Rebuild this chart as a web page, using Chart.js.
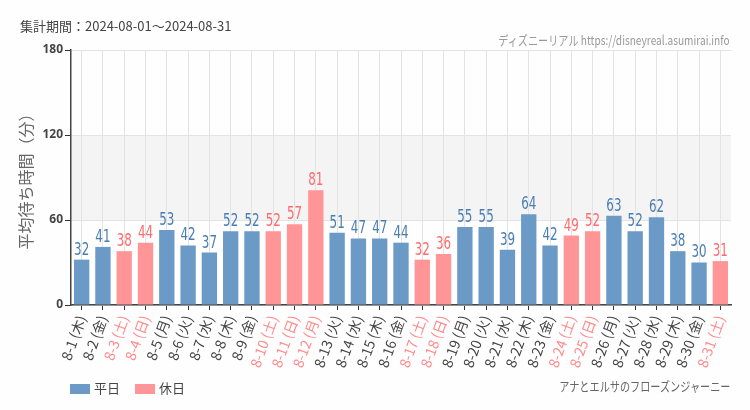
<!DOCTYPE html>
<html>
<head>
<meta charset="utf-8">
<script src="https://cdn.jsdelivr.net/npm/chart.js@4"></script>
<style>
  html, body { margin: 0; padding: 0; background: #fdfefd; }
  #wrap { position: relative; width: 750px; height: 410px; font-family: "Noto Sans CJK JP", "DejaVu Sans", sans-serif; }
  #period { position: absolute; left: 20px; top: 16px; font-size: 13px; color: #444; }
  .narrow { position: absolute; white-space: nowrap; transform: scaleX(0.78); transform-origin: right top; }
  #site { right: 20px; top: 30px; font-size: 13px; color: #999; }
  #legend { position: absolute; left: 70px; top: 378px; font-size: 13px; color: #444; }
  #legend span.box { display: inline-block; width: 20px; height: 10px; vertical-align: -1px; margin-right: 4px; }
  #legend span.item { margin-right: 12px; }
  #attr { right: 20px; top: 376px; font-size: 13px; color: #666; }
  canvas { position: absolute; left: 0; top: 0; }
</style>
</head>
<body>
<div id="wrap">
  <canvas id="chart" width="750" height="410"></canvas>
  <div id="period">集計期間：2024-08-01～2024-08-31</div>
  <div id="site" class="narrow">ディズニーリアル https://disneyreal.asumirai.info</div>
  <div id="legend">
    <span class="item"><span class="box" style="background:#6b9ac7"></span>平日</span>
    <span class="item"><span class="box" style="background:#ff9597"></span>休日</span>
  </div>
  <div id="attr" class="narrow">アナとエルサのフローズンジャーニー</div>
</div>
<script>
// ---- data ----
const days = ['8-1','8-2','8-3','8-4','8-5','8-6','8-7','8-8','8-9','8-10','8-11','8-12','8-13','8-14','8-15','8-16',
  '8-17','8-18','8-19','8-20','8-21','8-22','8-23','8-24','8-25','8-26','8-27','8-28','8-29','8-30','8-31'];
const weekdays = ['木','金','土','日','月','火','水','木','金','土','日','月','火','水','木','金',
  '土','日','月','火','水','木','金','土','日','月','火','水','木','金','土'];
const waitTimes = [32,41,38,44,53,42,37,52,52,52,57,81,51,47,47,44,32,36,55,55,39,64,42,49,52,63,52,62,38,30,31];
const holidays = ['8-3','8-4','8-10','8-11','8-12','8-17','8-18','8-24','8-25','8-31'];
const yTicks = [0, 60, 120, 180];

const BLUE = '#6b9ac7', PINK = '#ff9597';
const BLUE_TXT = '#4a7db3', PINK_TXT = '#ff6b6e';

const labels = days.map((d, i) => d + '\u2009(' + weekdays[i] + ')');
const isHoliday = days.map(d => holidays.includes(d));
const weekdayData = waitTimes.map((v, i) => isHoliday[i] ? null : v);
const holidayData = waitTimes.map((v, i) => isHoliday[i] ? v : null);

// band between 60 and 120
const bandPlugin = {
  id: 'band',
  beforeDraw(chart) {
    const { ctx, chartArea, scales } = chart;
    const y1 = scales.y.getPixelForValue(120), y2 = scales.y.getPixelForValue(60);
    ctx.save();
    ctx.fillStyle = '#f3f4f3';
    ctx.fillRect(chartArea.left, y1, chartArea.right - chartArea.left, y2 - y1);
    ctx.restore();
  }
};

// value labels above bars (squeezed to look condensed)
const valuePlugin = {
  id: 'values',
  afterDatasetsDraw(chart) {
    const { ctx } = chart;
    ctx.save();
    ctx.font = '17px "DejaVu Sans", sans-serif';
    ctx.textAlign = 'center';
    ctx.textBaseline = 'bottom';
    chart.data.datasets.forEach((ds, di) => {
      const meta = chart.getDatasetMeta(di);
      meta.data.forEach((bar, i) => {
        if (ds.data[i] == null) return;
        ctx.save();
        ctx.translate(bar.x, bar.y - 1);
        ctx.scale(0.7, 1);
        ctx.fillStyle = di === 0 ? BLUE_TXT : PINK_TXT;
        ctx.fillText(ds.data[i], 0, 0);
        ctx.restore();
      });
    });
    ctx.restore();
  }
};

new Chart(document.getElementById('chart'), {
  type: 'bar',
  data: {
    labels,
    datasets: [
      { label: '平日', data: weekdayData, backgroundColor: BLUE, grouped: false, barPercentage: 0.72, categoryPercentage: 1 },
      { label: '休日', data: holidayData, backgroundColor: PINK, grouped: false, barPercentage: 0.72, categoryPercentage: 1 }
    ]
  },
  options: {
    responsive: false,
    animation: false,
    layout: { padding: { top: 50, right: 19, left: 0, bottom: 0 } },
    plugins: { legend: { display: false }, tooltip: { enabled: false } },
    scales: {
      x: {
        afterFit(scale) { scale.height = 105; },
        grid: { offset: false, color: '#e3e3e3', tickColor: '#333', tickLength: 5, drawOnChartArea: true },
        border: { color: '#444', width: 1.5 },
        ticks: {
          minRotation: 70, maxRotation: 70, autoSkip: false,
          font: { size: 14, family: '"Noto Sans CJK JP", sans-serif' },
          color: ctx => isHoliday[ctx.index] ? '#ff8a8c' : '#444'
        }
      },
      y: {
        min: 0, max: 180,
        afterFit(scale) { scale.width = 71; },
        afterBuildTicks(scale) { scale.ticks = yTicks.map(v => ({ value: v })); },
        grid: { color: '#e3e3e3', tickColor: '#333', tickLength: 6 },
        border: { color: '#444', width: 1.5 },
        ticks: { font: { size: 12, family: '"Noto Sans", sans-serif', weight: 'bold' }, color: '#444', padding: 2 },
        title: {
          display: true, text: '平均待ち時間（分）', color: '#666',
          font: { size: 16, family: '"Noto Sans CJK JP", sans-serif' },
          padding: { top: 16, bottom: 0 }
        }
      }
    }
  },
  plugins: [bandPlugin, valuePlugin]
});
</script>
</body>
</html>
